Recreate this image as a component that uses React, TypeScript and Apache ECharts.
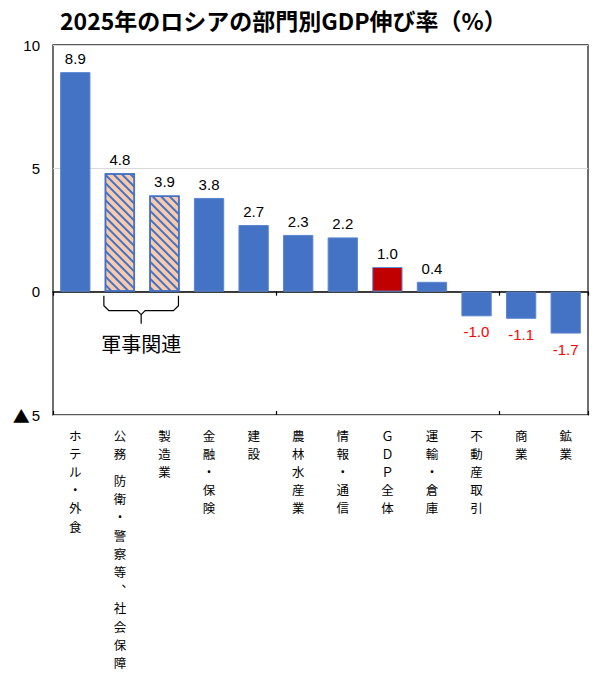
import React, { useEffect, useRef } from 'react';
import * as echarts from 'echarts';

const titleText = '2025年のロシアの部門別GDP伸び率（%）';
const categories = [
  'ホテル・外食',
  '公務 防衛・警察等︑社会保障',
  '製造業',
  '金融・保険',
  '建設',
  '農林水産業',
  '情報・通信',
  'ＧＤＰ全体',
  '運輸・倉庫',
  '不動産取引',
  '商業',
  '鉱業',
];
const values = [8.9, 4.8, 3.9, 3.8, 2.7, 2.3, 2.2, 1.0, 0.4, -1.0, -1.1, -1.7];
const militaryIdx = [1, 2];
const totalIdx = 7;
const groupLabel = '軍事関連';
const yMin = -5;
const yMax = 10;
const yStep = 5;

const BLUE = '#4472C4';
const RED = '#C00000';
const PINK = '#F8CBAD';
const JP = '"Noto Sans CJK JP", sans-serif';
const NUM = '"Liberation Sans", Arial, sans-serif';

export default function App() {
  const ref = useRef<HTMLDivElement>(null);
  useEffect(() => {
    document.body.style.margin = '0';
    const chart = echarts.init(ref.current!, null, { renderer: 'svg' });
    const data = values.map((v, i) => {
      const military = militaryIdx.includes(i);
      const total = i === totalIdx;
      return {
        value: v,
        itemStyle: military
          ? {
              color: PINK,
              borderColor: BLUE,
              borderWidth: 1.5,
              decal: {
                symbol: 'rect',
                symbolSize: 1,
                color: BLUE,
                dashArrayX: [1, 0],
                dashArrayY: [2, 4],
                rotation: Math.PI / 4,
              },
            }
          : {
              color: total ? RED : BLUE,
              borderColor: total ? '#5B8FD9' : '#5A86D0',
              borderWidth: 1,
            },
        label: {
          position: v >= 0 ? 'top' : 'bottom',
          distance: v >= 0 ? 6 : 8,
          color: v >= 0 ? '#000' : '#FF0000',
        },
      };
    });
    const baseX = {
      type: 'category',
      data: categories,
      boundaryGap: true,
    };
    chart.setOption({
      animation: false,
      title: {
        text: titleText,
        left: 55,
        top: 3,
        textStyle: { fontSize: 23, fontWeight: 'bold', fontFamily: JP, color: '#000' },
      },
      grid: {
        left: 53,
        right: 12,
        top: 45,
        bottom: 260,
        show: true,
        borderColor: '#222',
        borderWidth: 1.3,
        backgroundColor: 'transparent',
      },
      xAxis: [
        {
          ...baseX,
          position: 'bottom',
          axisLine: { show: false, onZero: false },
          axisTick: { show: false },
          axisLabel: {
            interval: 0,
            margin: 11,
            verticalAlign: 'top',
            fontSize: 12.5,
            lineHeight: 18.2,
            color: '#000',
            fontFamily: JP,
            formatter: (v: string) =>
              Array.from(v)
                .map((c) => (c === ' ' ? '{g| }' : c))
                .join('\n'),
            rich: { g: { fontSize: 6, lineHeight: 9 } },
          },
        },
        {
          ...baseX,
          position: 'bottom',
          axisLine: { show: true, onZero: true, lineStyle: { color: '#000', width: 1.5 } },
          axisTick: { show: true, inside: false, length: 4, lineStyle: { color: '#000', width: 1.2 } },
          axisLabel: { show: false },
        },
        {
          ...baseX,
          position: 'bottom',
          axisLine: { show: false, onZero: true },
          axisTick: { show: true, inside: true, length: 4, lineStyle: { color: '#000', width: 1.2 } },
          axisLabel: { show: false },
        },
      ],
      yAxis: {
        type: 'value',
        min: yMin,
        max: yMax,
        interval: yStep,
        axisLine: { show: false },
        axisTick: { show: false },
        splitLine: { show: true, lineStyle: { color: '#D9D9D9', width: 1 } },
        axisLabel: {
          margin: 13,
          fontSize: 15,
          color: '#000',
          fontFamily: NUM,
          formatter: (v: number) => (v < 0 ? '{t|▲}' + Math.abs(v) : String(v)),
          rich: { t: { fontSize: 17, fontFamily: JP, color: '#000', padding: [0, 2, 0, 0] } },
        },
      },
      series: [
        {
          type: 'bar',
          xAxisIndex: 0,
          barWidth: '68%',
          data,
          label: {
            show: true,
            fontSize: 15,
            fontFamily: NUM,
            formatter: (p: any) => Number(p.value).toFixed(1),
          },
        },
      ],
    });

    const c1 = chart.convertToPixel({ xAxisIndex: 0 }, militaryIdx[0]) as number;
    const c2 = chart.convertToPixel({ xAxisIndex: 0 }, militaryIdx[militaryIdx.length - 1]) as number;
    const y0 = chart.convertToPixel({ yAxisIndex: 0 }, 0) as number;
    const xL = c1 - 16;
    const xR = c2 + 14;
    const xc = (xL + xR) / 2;
    const lineStyle = { stroke: '#000', lineWidth: 1.2, fill: null };
    chart.setOption({
      graphic: [
        {
          type: 'polyline',
          shape: {
            points: [
              [xL, y0 + 4],
              [xL, y0 + 14],
              [xL + 5, y0 + 19],
              [xc - 4, y0 + 19],
              [xc, y0 + 23],
              [xc, y0 + 32],
            ],
          },
          style: lineStyle,
          silent: true,
        },
        {
          type: 'polyline',
          shape: {
            points: [
              [xc, y0 + 23],
              [xc + 4, y0 + 19],
              [xR - 5, y0 + 19],
              [xR, y0 + 14],
              [xR, y0 + 4],
            ],
          },
          style: lineStyle,
          silent: true,
        },
        {
          type: 'text',
          x: xc,
          y: y0 + 52,
          style: {
            text: groupLabel,
            fontSize: 20,
            fontFamily: JP,
            fill: '#000',
            align: 'center',
            verticalAlign: 'middle',
          },
          silent: true,
        },
      ],
    });

    return () => chart.dispose();
  }, []);
  return <div ref={ref} style={{ width: 600, height: 675 }} />;
}
